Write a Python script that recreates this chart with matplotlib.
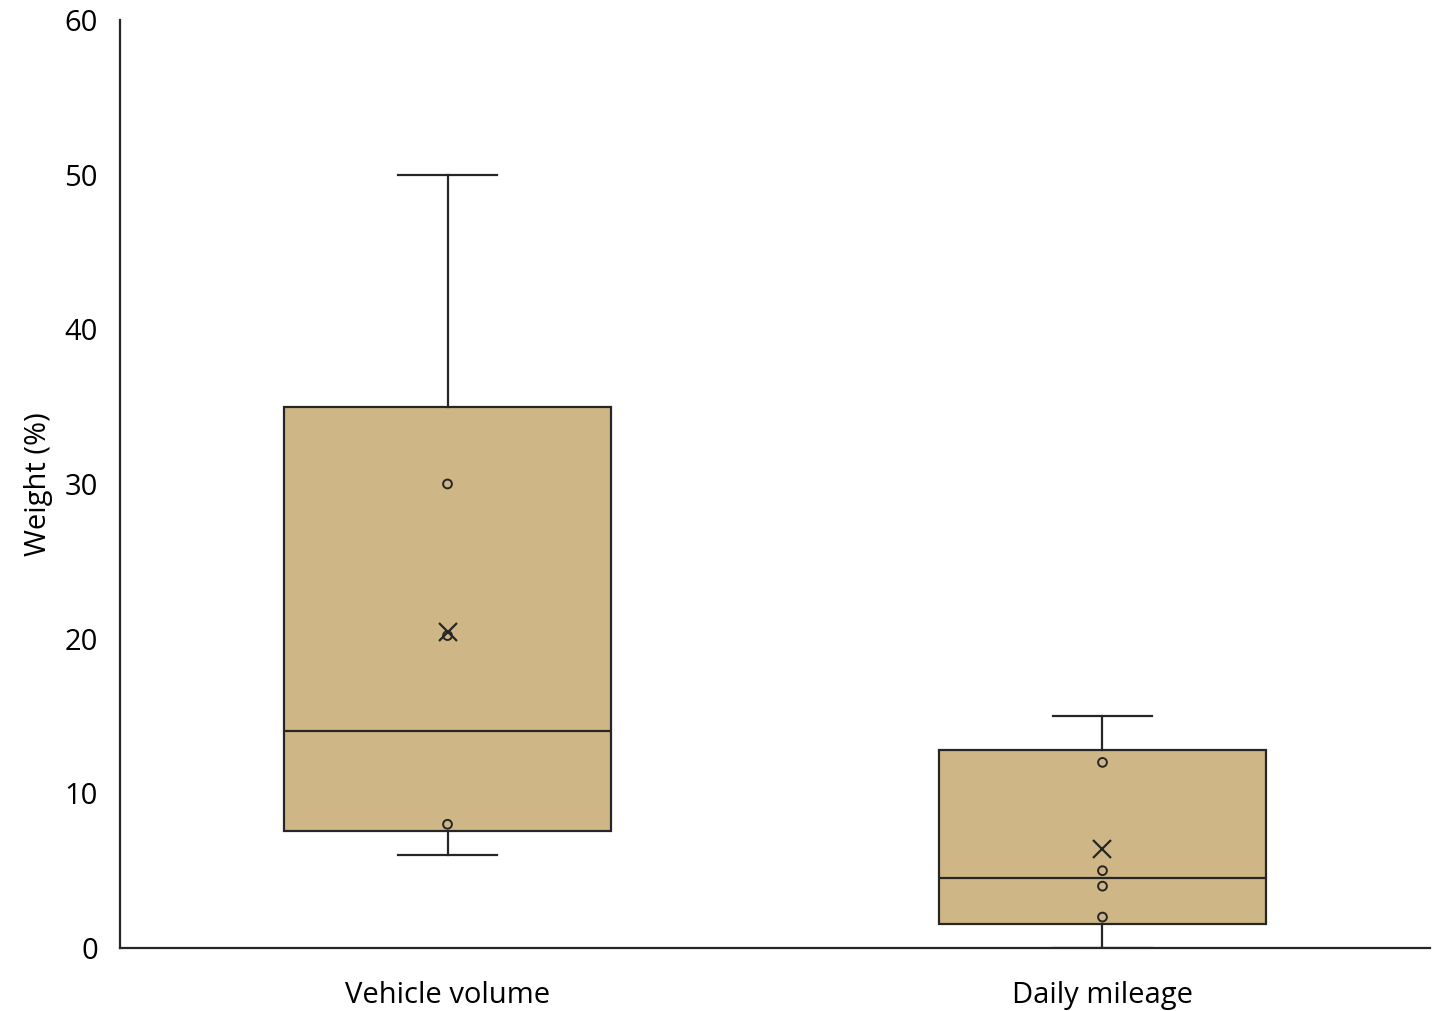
import matplotlib
matplotlib.use("Agg")
import matplotlib.pyplot as plt

plt.rcParams['font.family'] = ['Open Sans', 'DejaVu Sans']

categories = ['Vehicle volume', 'Daily mileage']
whislo = [6.0, 0.0]
q1 = [7.55, 1.55]
medians = [14.0, 4.5]
q3 = [35.0, 12.8]
whishi = [50.0, 15.0]
means = [20.4, 6.4]
inner_points = [[30.0, 20.2, 8.0], [12.0, 5.0, 4.0, 2.0]]

fill = '#cfb687'
edge = '#262626'

stats = []
for i, name in enumerate(categories):
    stats.append({'label': name, 'whislo': whislo[i], 'q1': q1[i], 'med': medians[i],
                  'q3': q3[i], 'whishi': whishi[i], 'mean': means[i], 'fliers': []})

fig = plt.figure(figsize=(14.34, 10.11), dpi=100)
ax = fig.add_axes([0.0837, 0.0623, 0.9135, 0.918])

positions = [1, 2]
ax.bxp(stats, positions=positions, widths=0.5, patch_artist=True, showmeans=True,
       capwidths=0.15,
       boxprops=dict(facecolor=fill, edgecolor=edge, linewidth=1.6),
       medianprops=dict(color=edge, linewidth=1.6),
       whiskerprops=dict(color=edge, linewidth=1.6),
       capprops=dict(color=edge, linewidth=1.6),
       meanprops=dict(marker='x', markeredgecolor=edge, markersize=13, markeredgewidth=1.6))

for pos, pts in zip(positions, inner_points):
    ax.scatter([pos] * len(pts), pts, s=40, facecolor='none', edgecolor=edge,
               linewidth=1.4, zorder=4)

ax.set_xlim(0.5, 2.5)
ax.set_ylim(0, 60)
ax.set_yticks(range(0, 61, 10))
ax.tick_params(axis='both', length=0, labelsize=21)
ax.tick_params(axis='x', pad=24)
ax.tick_params(axis='y', pad=16)
ax.set_ylabel('Weight (%)', fontsize=21, labelpad=8)
for s in ['top', 'right']:
    ax.spines[s].set_visible(False)
for s in ['left', 'bottom']:
    ax.spines[s].set_linewidth(1.6)
    ax.spines[s].set_color(edge)

fig.savefig('out.png', dpi=100)
